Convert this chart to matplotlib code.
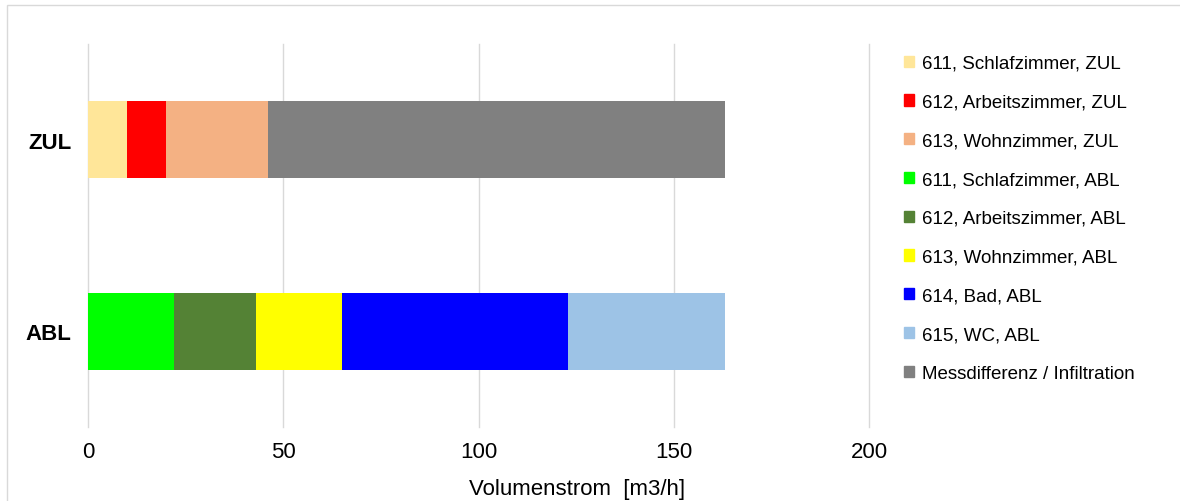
import matplotlib.pyplot as plt
import matplotlib.patches as mpatches
import numpy as np

plt.rcParams['font.family'] = ['Liberation Sans', 'DejaVu Sans']

# categories (bottom to top)
categories = ["ABL", "ZUL"]

# segment values in m3/h, one entry per category (ABL, ZUL)
labels = ["611, Schlafzimmer, ZUL", "612, Arbeitszimmer, ZUL", "613, Wohnzimmer, ZUL",
          "611, Schlafzimmer, ABL", "612, Arbeitszimmer, ABL", "613, Wohnzimmer, ABL",
          "614, Bad, ABL", "615, WC, ABL", "Messdifferenz / Infiltration"]
values = [
    [0, 10],    # 611 ZUL
    [0, 10],    # 612 ZUL
    [0, 26],    # 613 ZUL
    [22, 0],    # 611 ABL
    [21, 0],    # 612 ABL
    [22, 0],    # 613 ABL
    [58, 0],    # 614 ABL
    [40, 0],    # 615 ABL
    [0, 117],   # Messdifferenz
]
colors = ["#FFE699", "#FF0000", "#F4B183", "#00FF00", "#548235",
          "#FFFF00", "#0000FF", "#9DC3E6", "#808080"]

fig = plt.figure(figsize=(11.8, 5.02), dpi=100)
ax = fig.add_axes([88 / 1180, 1 - 428 / 502, (869 - 88) / 1180, (428 - 45) / 502])

y = np.arange(len(categories))
left = np.zeros(len(categories))
handles = []
for lab, vals, col in zip(labels, values, colors):
    vals = np.array(vals, dtype=float)
    ax.barh(y, vals, left=left, height=0.4, color=col, zorder=3)
    left += vals
    handles.append(mpatches.Patch(color=col, label=lab))

ax.set_xlim(0, 200)
ax.set_ylim(-0.5, 1.5)
ax.set_xticks([0, 50, 100, 150, 200])
ax.set_yticks(y)
ax.set_yticklabels(categories, fontsize=16, fontweight='bold')
ax.tick_params(axis='x', labelsize=16, length=0, pad=10)
ax.tick_params(axis='y', length=0, pad=12)
for gx in [0, 50, 100, 150, 200]:
    ax.axvline(gx, color='#D9D9D9', linewidth=1, zorder=0, clip_on=False)
for s in ax.spines.values():
    s.set_visible(False)
ax.set_xlabel("Volumenstrom  [m3/h]", fontsize=16)
ax.xaxis.set_label_coords((577 - 88) / 781, -0.133)

leg = fig.legend(handles=handles, loc='upper left', bbox_to_anchor=(887 / 1180, 1 - 39 / 502),
                 frameon=False, fontsize=13.5, handlelength=0.55, handleheight=0.55,
                 handletextpad=0.4, labelspacing=1.16)

# light outer border
fig.patches.append(mpatches.Rectangle((7 / 1180, -0.1), 1.2, 1 - 6 / 502 + 0.1,
                                      transform=fig.transFigure, fill=False,
                                      edgecolor='#D9D9D9', linewidth=1))

fig.savefig("out.png", dpi=100)
